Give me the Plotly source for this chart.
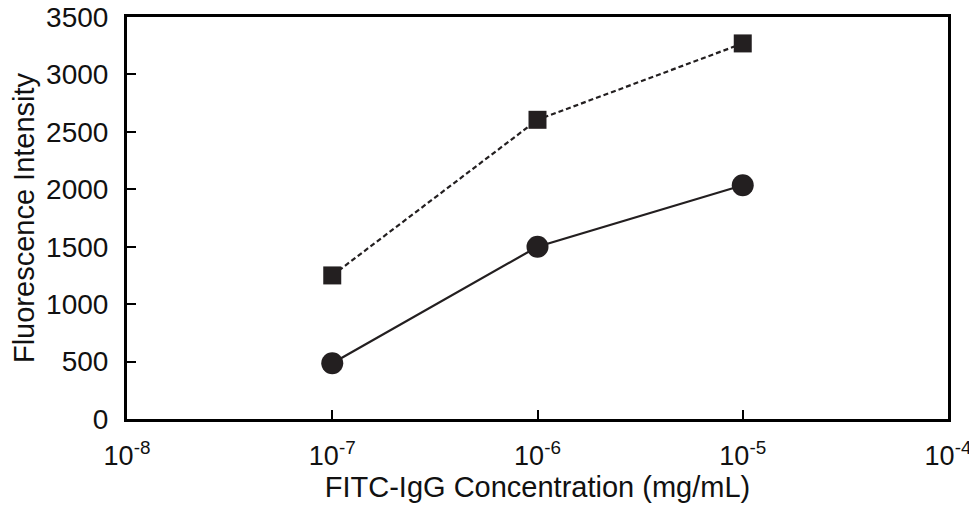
import plotly.graph_objects as go

conc = [1e-7, 1e-6, 1e-5]
square_vals = [1250, 2605, 3270]
circle_vals = [485, 1500, 2035]
x_tickvals = [1e-8, 1e-7, 1e-6, 1e-5, 1e-4]
x_ticktext = ["10<sup>-8</sup>", "10<sup>-7</sup>", "10<sup>-6</sup>", "10<sup>-5</sup>", "10<sup>-4</sup>"]
y_tickvals = [0, 500, 1000, 1500, 2000, 2500, 3000, 3500]

ink = "#231f20"
fig = go.Figure()
fig.add_trace(go.Scatter(
    x=conc, y=square_vals, mode="lines+markers",
    line=dict(color=ink, width=2.2, dash="5px,3px"),
    marker=dict(symbol="square", size=18, color=ink),
    showlegend=False))
fig.add_trace(go.Scatter(
    x=conc, y=circle_vals, mode="lines+markers",
    line=dict(color=ink, width=2.2),
    marker=dict(symbol="circle", size=22, color=ink),
    showlegend=False))

# The page body has an 8px default margin, so the figure is sized to fit the window.
font = dict(family="Liberation Sans, Arial, sans-serif", color="#111111")
fig.update_layout(
    width=969, height=498,
    margin=dict(l=119, r=29, t=9, b=87),
    paper_bgcolor="white", plot_bgcolor="white",
    font=font,
    xaxis=dict(
        type="log", range=[-8, -4], automargin=False,
        tickvals=x_tickvals, ticktext=x_ticktext,
        ticks="inside", ticklen=9, tickwidth=2, tickcolor="black",
        showline=True, linewidth=3, linecolor="black", mirror=True,
        showgrid=False, zeroline=False,
        ticklabelstandoff=11, ticklabeloverflow="allow",
        tickfont=dict(size=27, color="#111111"),
        title=dict(text="FITC-IgG Concentration (mg/mL)", font=dict(size=29, color="#111111"), standoff=3),
    ),
    yaxis=dict(
        range=[0, 3500], tickvals=y_tickvals, automargin=False,
        ticks="inside", ticklen=9, tickwidth=2, tickcolor="black",
        showline=True, linewidth=3, linecolor="black", mirror=True,
        showgrid=False, zeroline=False,
        ticklabelstandoff=10, ticklabeloverflow="allow",
        tickfont=dict(size=28, color="#111111"),
        title=dict(text="Fluorescence Intensity", font=dict(size=29, color="#111111"), standoff=9),
    ),
)
fig.write_html("out.html")
